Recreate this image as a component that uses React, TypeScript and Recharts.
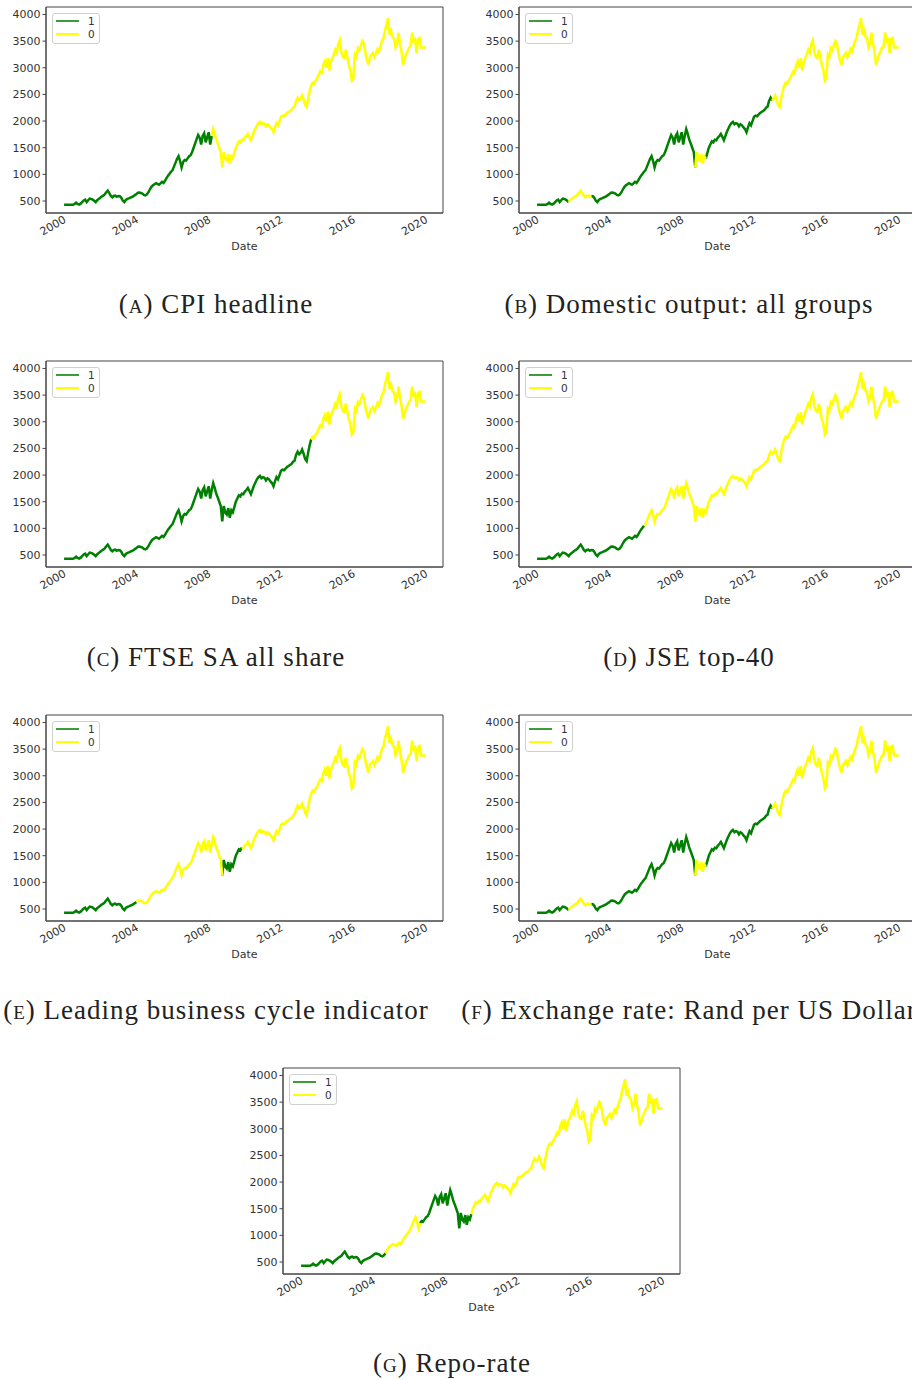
import { Line, LineChart, ReferenceArea, XAxis, YAxis, Label } from "recharts";

// monthly closes, Jan 2000 .. Dec 2019, then Jan 2020
const P_2000_2004 = [
    430, 430, 430, 430, 430, 430, 430, 445, 470, 445, 432, 450,
    480, 510, 525, 480, 515, 545, 540, 525, 505, 480, 515, 540,
    560, 585, 600, 625, 665, 695, 650, 595, 570, 595, 600, 580,
    595, 590, 560, 505, 480, 520, 540, 550, 565, 575, 590, 610,
    630, 655, 660, 650, 640, 615, 605, 625, 665, 720, 765, 795,
];
const P_2005_2009 = [
    815, 835, 820, 805, 830, 860, 840, 880, 930, 975, 1010, 1050,
    1080, 1150, 1220, 1290, 1340, 1250, 1130, 1230, 1270, 1260, 1300, 1340,
    1360, 1420, 1500, 1580, 1660, 1740, 1690, 1560, 1720, 1770, 1600, 1700,
    1790, 1560, 1720, 1850, 1760, 1650, 1580, 1500, 1420, 1130, 1420, 1300,
    1260, 1380, 1200, 1340, 1300, 1400, 1500, 1560, 1620, 1600, 1650, 1640,
];
const P_2010_2014 = [
    1690, 1720, 1760, 1700, 1640, 1720, 1800, 1860, 1920, 1960, 1985, 1940,
    1960, 1950, 1900, 1940, 1920, 1880, 1850, 1790, 1880, 1960, 1920, 2000,
    2080, 2100, 2090, 2120, 2150, 2170, 2190, 2210, 2250, 2270, 2380, 2440,
    2390, 2420, 2480, 2400, 2300, 2260, 2420, 2560, 2670, 2720, 2700, 2760,
    2800, 2870, 2930, 2900, 3050, 3120, 3000, 3180, 2950, 3100, 3180, 3250,
];
const P_2015_2019 = [
    3340, 3280, 3450, 3520, 3300, 3200, 3180, 3340, 3200, 3050, 2960, 2760,
    2800, 3250, 3200, 3370, 3330, 3420, 3500, 3450, 3280, 3150, 3060, 3200,
    3240, 3280, 3200, 3270, 3350, 3300, 3400, 3500, 3550, 3700, 3800, 3930,
    3620, 3700, 3580, 3550, 3380, 3450, 3660, 3450, 3300, 3060, 3150, 3250,
    3310, 3380, 3400, 3660, 3500, 3530, 3280, 3540, 3560, 3380, 3380, 3380,
];
const P_2020 = [3380];

// periods in regime "1" (green), as [from, to) in decimal years
const REGIME_A = [[2000, 2008.09]];
const REGIME_B = [[2000, 2001.73], [2002.92, 2008.7], [2009.26, 2013.0]];
const REGIME_C = [[2000, 2013.66]];
const REGIME_D = [[2000, 2005.86]];
const REGIME_E = [[2000, 2004.0], [2008.7, 2009.8]];
const REGIME_F = [[2000, 2001.73], [2002.92, 2008.7], [2009.26, 2013.0]];
const REGIME_G = [[2000, 2004.6], [2006.55, 2009.34]];

const X_TICKS = [2000, 2004, 2008, 2012, 2016, 2020];
const Y_TICKS = [500, 1000, 1500, 2000, 2500, 3000, 3500, 4000];
const X_DOMAIN: [number, number] = [1999.0, 2020.96];
const Y_DOMAIN: [number, number] = [275, 4140];

const GREEN = "#008000";
const YELLOW = "#ffff00";
const AXIS = "#444";
const TXT = "#333";

const PRICES = [...P_2000_2004, ...P_2005_2009, ...P_2010_2014, ...P_2015_2019, ...P_2020];

type Row = { t: number; g: number | null; y: number | null };

function buildRows(periods: number[][]): Row[] {
    const pts = PRICES.map((v, i) => ({ t: 2000 + i / 12, v }));
    const on = pts.map((p) => periods.some(([s, e]) => p.t >= s - 1e-9 && p.t < e));
    return pts.map((p, i) => {
        const prev = i > 0 ? on[i - 1] : on[i];
        return {
            t: p.t,
            g: on[i] || prev ? p.v : null,
            y: !on[i] || !prev ? p.v : null,
        };
    });
}

// rotated date label, top-right corner pinned just under the axis
const XTick = (props: any) => {
    const { x, y, payload } = props;
    const ax = x - 1;
    const ay = y - 1;
    return (
        <text
            x={ax}
            y={ay}
            transform={`rotate(-30 ${ax} ${ay})`}
            textAnchor="end"
            dy="0.7em"
            fontSize={11}
            fill={TXT}
            fontFamily="DejaVu Sans"
        >
            {payload.value}
        </text>
    );
};

const W = 460;
const H = 265;

type PanelProps = {
    left: number;
    top: number;
    periods: number[][];
    letter: string;
    caption: string;
    capX: number;
    capY: number;
};

function Panel({ left, top, periods, letter, caption, capX, capY }: PanelProps) {
    const data = buildRows(periods);
    return (
        <>
            <div style={{ position: "absolute", left: left - 46, top: top - 7 }}>
                <LineChart width={W} height={H} data={data} margin={{ top: 7, right: 17, left: 0, bottom: 0 }}>
                    <XAxis
                        dataKey="t"
                        type="number"
                        domain={X_DOMAIN}
                        ticks={X_TICKS}
                        allowDataOverflow
                        height={52}
                        stroke={AXIS}
                        tickLine={false}
                        tickSize={3}
                        tickMargin={0}
                        tick={<XTick />}
                    >
                        <Label
                            value="Date"
                            position="insideBottom"
                            offset={15}
                            style={{ fontSize: 11, fill: TXT, fontFamily: "DejaVu Sans" }}
                        />
                    </XAxis>
                    <YAxis
                        type="number"
                        domain={Y_DOMAIN}
                        ticks={Y_TICKS}
                        allowDataOverflow
                        width={46}
                        stroke={AXIS}
                        tickSize={3.5}
                        tickMargin={2}
                        tick={{ fontSize: 11, fill: TXT, fontFamily: "DejaVu Sans" }}
                    />
                    <ReferenceArea
                        x1={X_DOMAIN[0]}
                        x2={X_DOMAIN[1]}
                        y1={Y_DOMAIN[0]}
                        y2={Y_DOMAIN[1]}
                        fill="none"
                        stroke={AXIS}
                        strokeWidth={1}
                        ifOverflow="visible"
                    />
                    <Line
                        type="linear"
                        dataKey="g"
                        stroke={GREEN}
                        strokeWidth={2.5}
                        strokeLinejoin="miter"
                        dot={false}
                        isAnimationActive={false}
                    />
                    <Line
                        type="linear"
                        dataKey="y"
                        stroke={YELLOW}
                        strokeWidth={2.5}
                        strokeLinejoin="miter"
                        dot={false}
                        isAnimationActive={false}
                    />
                </LineChart>
                <div
                    style={{
                        position: "absolute",
                        left: 52,
                        top: 13,
                        width: 46,
                        height: 29,
                        border: "1px solid #d0d0d0",
                        borderRadius: 3,
                        background: "rgba(255,255,255,0.8)",
                        fontFamily: "DejaVu Sans",
                        fontSize: 10.5,
                        color: TXT,
                    }}
                >
                    <div style={{ position: "absolute", left: 3, top: 6, width: 23, height: 2, background: "#3c9c3c" }} />
                    <div style={{ position: "absolute", left: 35, top: 0, lineHeight: "14px" }}>1</div>
                    <div style={{ position: "absolute", left: 3, top: 19, width: 23, height: 1.5, background: YELLOW }} />
                    <div style={{ position: "absolute", left: 35, top: 13, lineHeight: "14px" }}>0</div>
                </div>
            </div>
            <div
                style={{
                    position: "absolute",
                    left: capX - 300,
                    width: 600,
                    top: capY - 16,
                    lineHeight: "32px",
                    textAlign: "center",
                    fontFamily: "Liberation Serif",
                    fontSize: 27,
                    letterSpacing: 1,
                    color: "#222",
                    whiteSpace: "nowrap",
                }}
            >
                (<span style={{ fontVariant: "small-caps" }}>{letter}</span>) {caption}
            </div>
        </>
    );
}

export default function App() {
    return (
        <div
            style={{
                position: "absolute",
                left: 0,
                top: 0,
                width: 912,
                height: 1380,
                overflow: "hidden",
                background: "#fff",
            }}
        >
            <Panel left={46} top={7} periods={REGIME_A} letter="a" caption="CPI headline" capX={216} capY={304} />
            <Panel left={519} top={7} periods={REGIME_B} letter="b" caption="Domestic output: all groups" capX={689} capY={304} />
            <Panel left={46} top={361} periods={REGIME_C} letter="c" caption="FTSE SA all share" capX={216} capY={657} />
            <Panel left={519} top={361} periods={REGIME_D} letter="d" caption="JSE top-40" capX={689} capY={657} />
            <Panel left={46} top={715} periods={REGIME_E} letter="e" caption="Leading business cycle indicator" capX={216} capY={1010} />
            <Panel left={519} top={715} periods={REGIME_F} letter="f" caption="Exchange rate: Rand per US Dollar" capX={689} capY={1010} />
            <Panel left={283} top={1068} periods={REGIME_G} letter="g" caption="Repo-rate" capX={452} capY={1363} />
        </div>
    );
}
